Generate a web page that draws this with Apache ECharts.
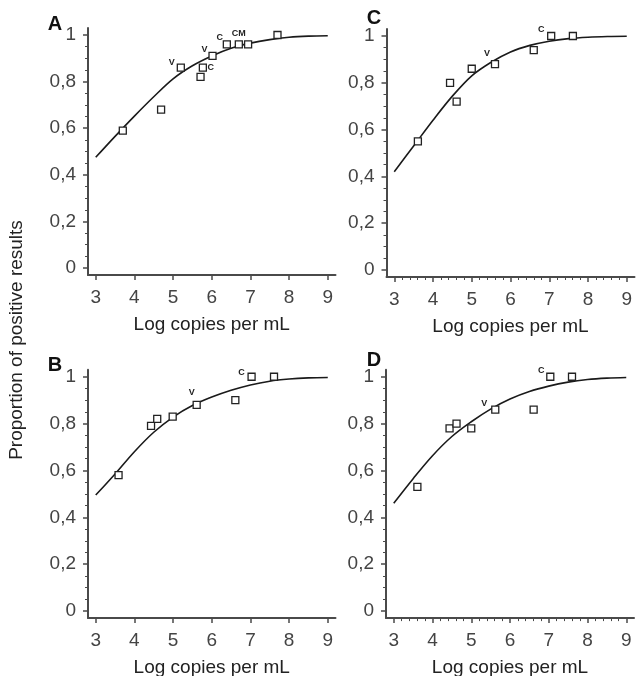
<!DOCTYPE html>
<html>
<head>
<meta charset="utf-8">
<script src="https://cdn.jsdelivr.net/npm/echarts@6/dist/echarts.min.js"></script>
<style>
html,body{margin:0;padding:0;background:#fff;}
#chart{width:641px;height:676px;}
</style>
</head>
<body>
<div id="chart"></div>
<script>
// ---- Data ----
const panelNames = ['A', 'B', 'C', 'D'];
const xTickLabels = [3, 4, 5, 6, 7, 8, 9];
const yTickLabels = [0, 0.2, 0.4, 0.6, 0.8, 1];
const xMinorTicks = [3.2,3.4,3.6,3.8,4.2,4.4,4.6,4.8,5.2,5.4,5.6,5.8,6.2,6.4,6.6,6.8,7.2,7.4,7.6,7.8,8.2,8.4,8.6,8.8];
const yMinorTicks = [0.05,0.1,0.15,0.25,0.3,0.35,0.45,0.5,0.55,0.65,0.7,0.75,0.85,0.9,0.95];

const pointsXA = [3.70, 4.69, 5.20, 5.71, 5.77, 6.02, 6.39, 6.70, 6.94, 7.70];
const pointsYA = [0.59, 0.68, 0.86, 0.82, 0.86, 0.91, 0.96, 0.96, 0.96, 1.00];
const tagsA    = ['', '', 'V', '', 'C', 'V', 'C', 'CM', '', ''];

const pointsXB = [3.59, 4.43, 4.59, 4.99, 5.61, 6.61, 7.03, 7.61];
const pointsYB = [0.58, 0.79, 0.82, 0.83, 0.88, 0.90, 1.00, 1.00];
const tagsB    = ['', '', '', '', 'V', '', 'C', ''];

const pointsXC = [3.61, 4.44, 4.61, 5.00, 5.60, 6.60, 7.05, 7.61];
const pointsYC = [0.55, 0.80, 0.72, 0.86, 0.88, 0.94, 1.00, 1.00];
const tagsC    = ['', '', '', '', 'V', '', 'C', ''];

const pointsXD = [3.61, 4.44, 4.62, 5.00, 5.62, 6.61, 7.04, 7.60];
const pointsYD = [0.53, 0.78, 0.80, 0.78, 0.86, 0.86, 1.00, 1.00];
const tagsD    = ['', '', '', '', 'V', '', 'C', ''];

const curveX  = [3, 3.5, 4, 4.5, 5, 5.5, 6, 6.5, 7, 7.5, 8, 8.5, 9];
const curveYA = [0.475, 0.565, 0.652, 0.735, 0.812, 0.868, 0.91, 0.943, 0.965, 0.98, 0.99, 0.995, 0.997];
const curveYB = [0.495, 0.585, 0.68, 0.763, 0.828, 0.877, 0.913, 0.942, 0.965, 0.981, 0.99, 0.995, 0.997];
const curveYC = [0.42, 0.53, 0.64, 0.743, 0.83, 0.888, 0.932, 0.96, 0.978, 0.989, 0.995, 0.998, 0.999];
const curveYD = [0.46, 0.565, 0.663, 0.745, 0.808, 0.862, 0.905, 0.937, 0.96, 0.977, 0.988, 0.994, 0.997];

// ---- Layout / styles (not data) ----
const FONT = '"Liberation Sans", Arial, sans-serif';
const grids = [
  {left: 88,  top: 28,  width: 247.5, height: 247},
  {left: 88,  top: 369.7, width: 247.5, height: 248.4},
  {left: 386.5, top: 29, width: 248, height: 248},
  {left: 386, top: 369.7, width: 248, height: 248.4}
];
const hasXMinor = [false, false, true, true];
const tagOffsets = {
  A: [null, null, [-9,-5], null, [8,0], [-8,-6], [-7,-7], [0,-11], null, null],
  B: [null, null, null, null, [-5,-12], null, [-10,-4], null],
  C: [null, null, null, null, [-8,-11], null, [-10,-7], null],
  D: [null, null, null, null, [-11,-6], null, [-9,-6], null]
};
const letterPos = [[55, 24], [55, 365], [374, 18], [374, 360]];

const panels = [
  {px: pointsXA, py: pointsYA, tags: tagsA, cy: curveYA},
  {px: pointsXB, py: pointsYB, tags: tagsB, cy: curveYB},
  {px: pointsXC, py: pointsYC, tags: tagsC, cy: curveYC},
  {px: pointsXD, py: pointsYD, tags: tagsD, cy: curveYD}
];

const AXC = '#4a4a4a';
const option = {
  animation: false,
  backgroundColor: '#fff',
  textStyle: {fontFamily: FONT},
  grid: [], xAxis: [], yAxis: [], series: [],
  graphic: []
};

panels.forEach((p, i) => {
  const g = grids[i];
  option.grid.push(Object.assign({outerBoundsMode: 'none', containLabel: false}, g));
  option.xAxis.push({
    type: 'value', gridIndex: i, min: 2.8, max: 9.2, position: 'bottom',
    axisLine: {show: true, onZero: false, lineStyle: {color: AXC, width: 2}},
    axisTick: {show: true, inside: false, length: 5, customValues: xTickLabels, lineStyle: {color: AXC, width: 1.5}},
    axisLabel: {show: true, customValues: xTickLabels, margin: 13, fontSize: 19, color: '#444', fontFamily: FONT},
    splitLine: {show: false},
    name: 'Log copies per mL', nameLocation: 'middle', nameGap: 40,
    nameTextStyle: {fontSize: 19, color: '#222', fontFamily: FONT}
  });
  option.xAxis.push({
    type: 'value', gridIndex: i, min: 2.8, max: 9.2, position: 'bottom',
    axisLine: {show: false, onZero: false},
    axisTick: {show: hasXMinor[i], inside: false, length: 3, customValues: xMinorTicks, lineStyle: {color: AXC, width: 1}},
    axisLabel: {show: false},
    splitLine: {show: false}
  });
  option.yAxis.push({
    type: 'value', gridIndex: i, min: -0.03, max: 1.03, position: 'left',
    axisLine: {show: true, onZero: false, lineStyle: {color: AXC, width: 2}},
    axisTick: {show: true, inside: false, length: 5, customValues: yTickLabels, lineStyle: {color: AXC, width: 1.5}},
    axisLabel: {show: true, customValues: yTickLabels, margin: 12, fontSize: 19, color: '#444', fontFamily: FONT,
      formatter: v => String(v).replace('.', ',')},
    splitLine: {show: false}
  });
  option.yAxis.push({
    type: 'value', gridIndex: i, min: -0.03, max: 1.03, position: 'left',
    axisLine: {show: false, onZero: false},
    axisTick: {show: true, inside: false, length: 3, customValues: yMinorTicks, lineStyle: {color: AXC, width: 1}},
    axisLabel: {show: false},
    splitLine: {show: false}
  });

  option.series.push({
    type: 'line', xAxisIndex: 2 * i, yAxisIndex: 2 * i,
    data: curveX.map((x, k) => [x, p.cy[k]]),
    smooth: 0.35, showSymbol: false, symbol: 'none',
    lineStyle: {color: '#1a1a1a', width: 1.6}, z: 2, silent: true
  });
  const offs = tagOffsets[panelNames[i]];
  option.series.push({
    type: 'scatter', xAxisIndex: 2 * i, yAxisIndex: 2 * i,
    symbol: 'rect', symbolSize: 7,
    itemStyle: {color: '#fff', borderColor: '#222', borderWidth: 1.3, opacity: 1},
    z: 3,
    data: p.px.map((x, k) => {
      const item = {value: [x, p.py[k]]};
      if (p.tags[k]) {
        item.label = {show: true, position: 'inside', offset: offs[k], formatter: p.tags[k],
          fontSize: 9, fontWeight: 'bold', color: '#222', fontFamily: FONT};
      } else {
        item.label = {show: false};
      }
      return item;
    })
  });

  option.graphic.push({
    type: 'text', x: letterPos[i][0], y: letterPos[i][1],
    style: {text: panelNames[i], font: 'bold 20px ' + FONT, fill: '#111', align: 'center', verticalAlign: 'middle'}
  });
});

option.graphic.push({
  type: 'text', x: 17, y: 340, rotation: Math.PI / 2,
  style: {text: 'Proportion of positive results', font: '19px ' + FONT, fill: '#222', align: 'center', verticalAlign: 'middle'}
});

const chart = echarts.init(document.getElementById('chart'), null, {renderer: 'canvas', width: 641, height: 676});
chart.setOption(option);
</script>
</body>
</html>
